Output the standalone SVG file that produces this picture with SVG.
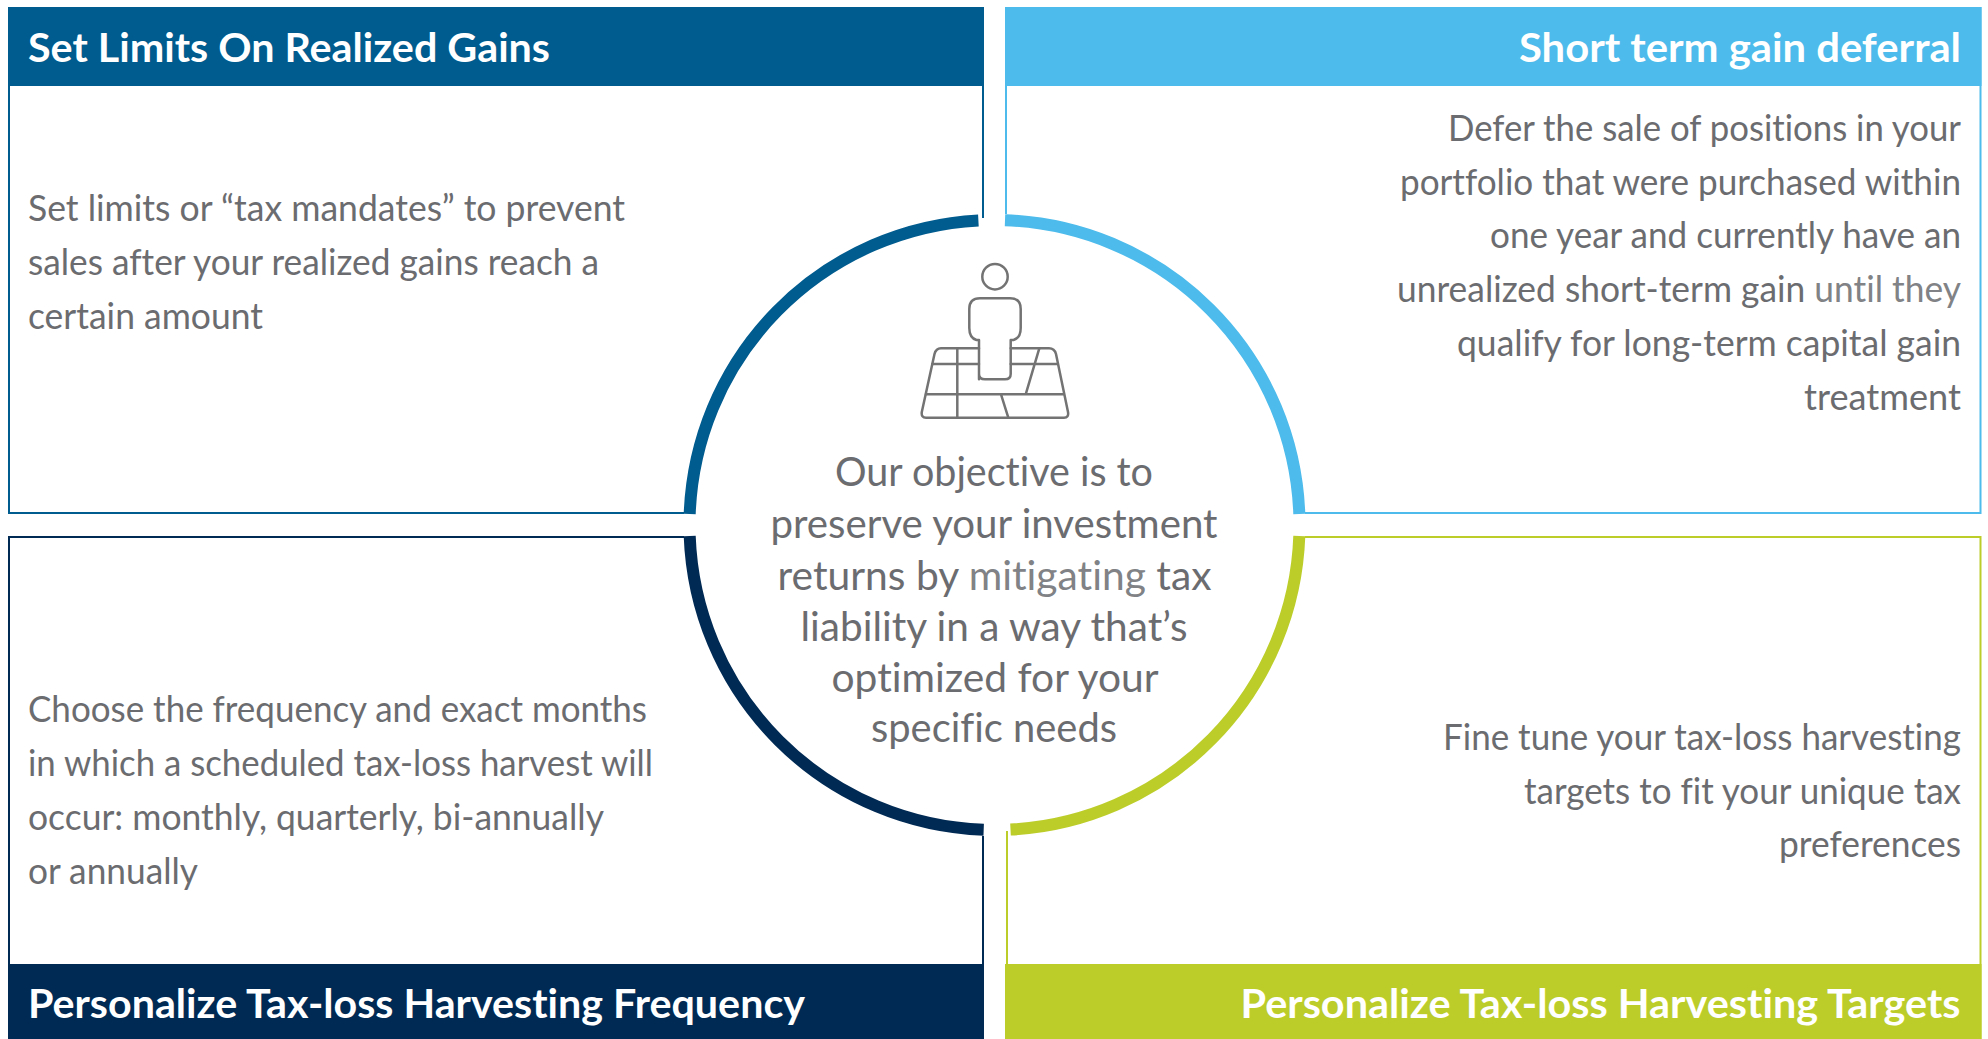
<svg xmlns="http://www.w3.org/2000/svg" width="1988" height="1039" viewBox="0 0 1988 1039">
<style>
text{font-family:"Lato","Open Sans","Liberation Sans",sans-serif;font-variant-ligatures:none}
.b{font-size:36px;fill:#6b6c6f}
.c{font-size:41px;fill:#6b6c6f;text-anchor:middle}
.h{font-size:40px;font-weight:700;fill:#fff}
.r{text-anchor:end}
.o{fill:none;stroke-width:2}
.a{fill:none;stroke-width:12}
.i{fill:none;stroke:#737373;stroke-width:2.500;stroke-linejoin:round;stroke-linecap:round}
</style>
<rect width="1988" height="1039" fill="#fff"/>
<g id="node-set-limits">
<path class="o" stroke="#005b8e" d="M983 218V8H9V513H684"/>
<rect x="8" y="7" width="976" height="79" fill="#005b8e"/>
<text class="h" x="28" y="61.500" textLength="522" lengthAdjust="spacingAndGlyphs">Set Limits On Realized Gains</text>
<text class="b" x="28" y="221" textLength="597" lengthAdjust="spacingAndGlyphs">Set limits or “tax mandates” to prevent</text>
<text class="b" x="28" y="274.500" textLength="571" lengthAdjust="spacingAndGlyphs">sales after your realized gains reach a</text>
<text class="b" x="28" y="328.500" textLength="235" lengthAdjust="spacingAndGlyphs">certain amount</text>
</g>
<g id="node-short-term">
<path class="o" stroke="#4dbbeb" d="M1006 214V8H1980.500V513H1305"/>
<rect x="1005" y="7" width="976.500" height="79" fill="#4dbbeb"/>
<text class="h r" x="1961" y="61.500" textLength="442" lengthAdjust="spacingAndGlyphs">Short term gain deferral</text>
<text class="b r" x="1961" y="141" textLength="513" lengthAdjust="spacingAndGlyphs">Defer the sale of positions in your</text>
<text class="b r" x="1961" y="194.500" textLength="561" lengthAdjust="spacingAndGlyphs">portfolio that were purchased within</text>
<text class="b r" x="1961" y="248" textLength="471" lengthAdjust="spacingAndGlyphs">one year and currently have an</text>
<text class="b r" x="1961" y="302" textLength="564" lengthAdjust="spacingAndGlyphs">unrealized short-term gain <tspan fill="#808285">until they</tspan></text>
<text class="b r" x="1961" y="356" textLength="504" lengthAdjust="spacingAndGlyphs">qualify for long-term capital gain</text>
<text class="b r" x="1961" y="409.500" textLength="157" lengthAdjust="spacingAndGlyphs">treatment</text>
</g>
<g id="node-frequency">
<path class="o" stroke="#002a54" d="M684 537H9V1039M983 836V1039"/>
<rect x="8" y="964" width="976" height="75" fill="#002a54"/>
<text class="h" x="28" y="1017.500" textLength="777" lengthAdjust="spacingAndGlyphs">Personalize Tax-loss Harvesting Frequency</text>
<text class="b" x="28" y="722" textLength="619" lengthAdjust="spacingAndGlyphs">Choose the frequency and exact months</text>
<text class="b" x="28" y="776" textLength="625" lengthAdjust="spacingAndGlyphs">in which a scheduled tax-loss harvest will</text>
<text class="b" x="28" y="830" textLength="576" lengthAdjust="spacingAndGlyphs">occur: monthly, quarterly, bi-annually</text>
<text class="b" x="28" y="884" textLength="170" lengthAdjust="spacingAndGlyphs">or annually</text>
</g>
<g id="node-targets">
<path class="o" stroke="#bccd2a" d="M1305 537H1980.500V1039M1007 831V1039"/>
<rect x="1005" y="964" width="976.500" height="75" fill="#bccd2a"/>
<text class="h r" x="1960.500" y="1017.500" textLength="720" lengthAdjust="spacingAndGlyphs">Personalize Tax-loss Harvesting Targets</text>
<text class="b r" x="1961" y="749.500" textLength="518" lengthAdjust="spacingAndGlyphs">Fine tune your tax-loss harvesting</text>
<text class="b r" x="1961" y="803.500" textLength="437" lengthAdjust="spacingAndGlyphs">targets to fit your unique tax</text>
<text class="b r" x="1961" y="857" textLength="182" lengthAdjust="spacingAndGlyphs">preferences</text>
</g>
<g id="connectors">
<path class="a" stroke="#005b8e" d="M689.700 514A305 305 0 0 1 978.400 220.400"/>
<path class="a" stroke="#4dbbeb" d="M1005 220.200A305 305 0 0 1 1299.300 514"/>
<path class="a" stroke="#bccd2a" d="M1299.300 536A305 305 0 0 1 1010.500 829.600"/>
<path class="a" stroke="#002a54" d="M983.700 829.800A305 305 0 0 1 689.700 536"/>
</g>
<g id="node-center">
<g id="icon" class="i">
<circle cx="995" cy="276.700" r="12.700"/>
<path d="M979 379.300V340H976.500Q969.300 338 969.300 328V309Q969.300 298.300 980 298.300H1010Q1020.700 298.300 1020.700 309V328Q1020.700 338 1013.500 340H1010.700V374Q1010.700 379.300 1005 379.300H985Q979 379.300 979 374V340"/>
<path d="M979 348.300H941Q936 348.300 934.500 354L921.800 412Q921 417.700 926 417.700H1064Q1069 417.700 1068 412L1056 354Q1054.500 348.300 1049 348.300H1010.700"/>
<path d="M932.300 364H979M1010.700 364H1056.700M926 394.300H1063.300M957.300 348.300V417.700M1039.300 348.300L1025.700 394.300M1001 394.300L1008.300 417.700"/>
</g>
<text class="c" x="994" y="486" textLength="318" lengthAdjust="spacingAndGlyphs">Our objective is to</text>
<text class="c" x="994" y="537.500" textLength="447" lengthAdjust="spacingAndGlyphs">preserve your investment</text>
<text class="c" x="994.500" y="589.500" textLength="434" lengthAdjust="spacingAndGlyphs">returns by <tspan fill="#808285">mitigating</tspan> tax</text>
<text class="c" x="994" y="641" textLength="387" lengthAdjust="spacingAndGlyphs">liability in a way that’s</text>
<text class="c" x="995" y="692" textLength="327" lengthAdjust="spacingAndGlyphs">optimized for your</text>
<text class="c" x="994" y="742" textLength="246" lengthAdjust="spacingAndGlyphs">specific needs</text>
</g>
</svg>
